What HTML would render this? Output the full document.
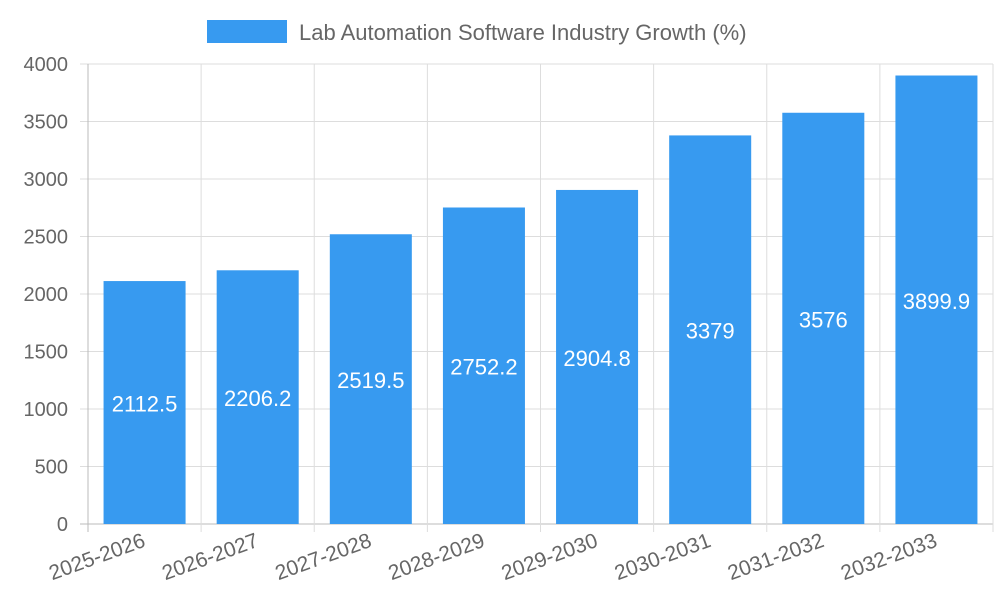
<!DOCTYPE html>
<html><head><meta charset="utf-8"><style>
body{margin:0;background:#fff;width:1000px;height:600px;overflow:hidden}
text{font-family:"Liberation Sans",sans-serif}
</style></head><body>
<svg id="chart" width="1000" height="600" xmlns="http://www.w3.org/2000/svg">
<g>
<rect x="207" y="20" width="80" height="23" fill="#379af0"/>
<text x="299" y="40" font-size="22" fill="#666">Lab Automation Software Industry Growth (%)</text>
</g>
<g id="grid"></g><g id="bars"></g><g id="axes"></g>
</svg>
<script>
const categories=["2025-2026","2026-2027","2027-2028","2028-2029","2029-2030","2030-2031","2031-2032","2032-2033"];
const values=[2112.5,2206.2,2519.5,2752.2,2904.8,3379,3576,3899.9];
const yTicks=[0,500,1000,1500,2000,2500,3000,3500,4000];
const NS="http://www.w3.org/2000/svg";
const L=88,R=993,T=64,B=524,yMax=4000;
const y=v=>B-(v/yMax)*(B-T);
const bw=(R-L)/categories.length;
const x=i=>L+i*bw;
function mk(tag,attrs,parent,txt){const e=document.createElementNS(NS,tag);for(const k in attrs)e.setAttribute(k,attrs[k]);if(txt!==undefined)e.textContent=txt;parent.appendChild(e);return e;}
const grid=document.getElementById('grid'),bars=document.getElementById('bars'),axes=document.getElementById('axes');
yTicks.forEach(t=>{
const g=mk('line',{x1:L-8,x2:R,y1:y(t),y2:y(t),stroke:t===0?'#bbb':'#ddd','stroke-width':1},grid);


const lb=mk('text',{x:L-20,y:y(t)+7,'text-anchor':'end','font-size':20,fill:'#666'},axes,String(t));


});
for(let i=0;i<=categories.length;i++){
const g=mk('line',{x1:x(i),x2:x(i),y1:T,y2:B+8,stroke:i===0?'#bbb':'#ddd','stroke-width':1},grid);


}
categories.forEach((c,i)=>{
const w=bw*0.725,bx=x(i)+(bw-w)/2;
const r=mk('rect',{x:bx,y:y(values[i]),width:w,height:B-y(values[i]),fill:'#379af0'},bars);


const v=mk('text',{x:bx+w/2,y:(y(values[i])+B)/2+9,'text-anchor':'middle','font-size':22,fill:'#fff'},bars,String(values[i]));


const tx=x(i)+bw/2+2,ty=B+22;
const lb=mk('text',{x:tx,y:ty,'text-anchor':'end','font-size':21,fill:'#666',transform:`rotate(-20 ${tx} ${ty})`},axes,c);


});
</script>
</body></html>
